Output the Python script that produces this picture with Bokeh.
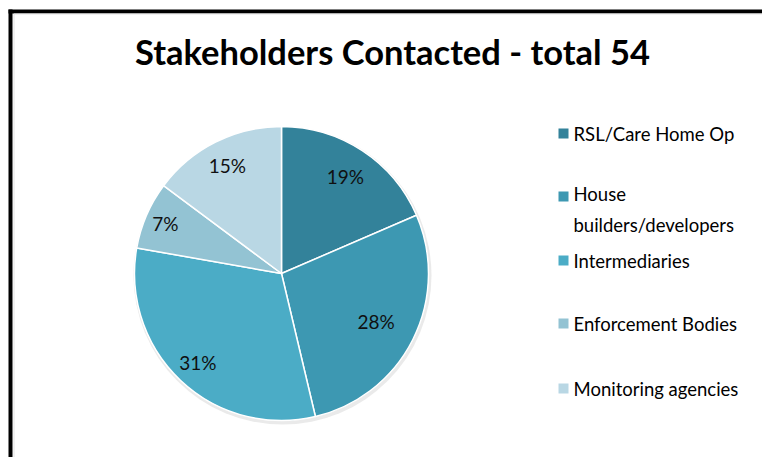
import numpy as np
from bokeh.plotting import figure
from bokeh.models import Range1d, ColumnDataSource
from bokeh.core.properties import value
from bokeh.embed import file_html
from bokeh.resources import INLINE

# ---- data ----
categories = ["RSL/Care Home Op", "House\nbuilders/developers", "Intermediaries",
              "Enforcement Bodies", "Monitoring agencies"]
counts = [10, 15, 17, 4, 8]
title_text = "Stakeholders Contacted - total 54"

# ---- styles / layout ----
colors = ["#33829A", "#3D98B2", "#4BACC6", "#93C3D3", "#B9D7E4"]
label_radius_frac = [0.79, 0.72, 0.83, 0.86, 0.82]
FONT = "Lato"
W, H = 762, 457

def Y(yref):  # picture row -> data y (y up)
    return H - yref

def X(xref):
    return xref

p = figure(width=W, height=H, output_backend="svg", toolbar_location=None,
           x_range=Range1d(0, W), y_range=Range1d(0, H), min_border=0)
p.axis.visible = False
p.grid.visible = False
p.outline_line_color = None
p.background_fill_color = "white"
p.border_fill_color = "white"

# frame (top and left edge)
p.quad(left=[X(8), X(8)], right=[X(12), W], top=[Y(9), Y(9)], bottom=[0, Y(13)],
       fill_color="black", line_color=None)
p.segment(x0=[X(13.5), X(13.5)], y0=[Y(13.5), Y(13.5)], x1=[X(13.5), W], y1=[0, Y(13.5)],
          line_color="#e4e4e4", line_width=1)

# pie
cx, cy, r = X(281), Y(273), 147
vals = np.array(counts, dtype=float)
frac = vals / vals.sum()
cum = np.concatenate([[0], np.cumsum(frac)])
start = np.pi / 2 - 2 * np.pi * cum[:-1]
end = np.pi / 2 - 2 * np.pi * cum[1:]
pct = [f"{round(f * 100):.0f}%" for f in frac]

# faint shadow
p.circle(x=[cx + 1], y=[cy - 2], radius=r + 2, fill_color="#dcdcdc",
         fill_alpha=0.6, line_color=None)

src = ColumnDataSource(dict(start=start, end=end, color=colors))
p.wedge(x=cx, y=cy, radius=r, start_angle="start", end_angle="end",
        direction="clock", fill_color="color", line_color="white",
        line_width=1.5, source=src)

mid = (start + end) / 2
lx = cx + r * np.array(label_radius_frac) * np.cos(mid)
ly = cy + r * np.array(label_radius_frac) * np.sin(mid)
p.text(x=lx, y=ly, text=pct, text_align="center", text_baseline="middle",
       text_font=value(FONT), text_font_size="19px", text_color="#101010")

# title
p.text(x=[X(392)], y=[Y(51)], text=[title_text], text_align="center",
       text_baseline="middle", text_font=value(FONT), text_font_style="bold",
       text_font_size="34.5px", text_color="black")

# legend
row_y = [133, 196, 260, 323, 388]
line_gap = 26
sq = 10
p.rect(x=[X(563)] * 5, y=[Y(v) for v in row_y], width=sq, height=sq,
       fill_color=colors, line_color=None)
text_y = []
for lab, v in zip(categories, row_y):
    nlines = lab.count("\n") + 1
    text_y.append(Y(v + (nlines - 1) * line_gap / 2))
p.text(x=[X(573)] * 5, y=text_y, text=categories, text_align="left",
       text_baseline="middle", text_font=value(FONT), text_font_size="18.5px",
       text_line_height=line_gap / 18.5, text_color="black")

open("out.html", "w").write(file_html(p, INLINE))
